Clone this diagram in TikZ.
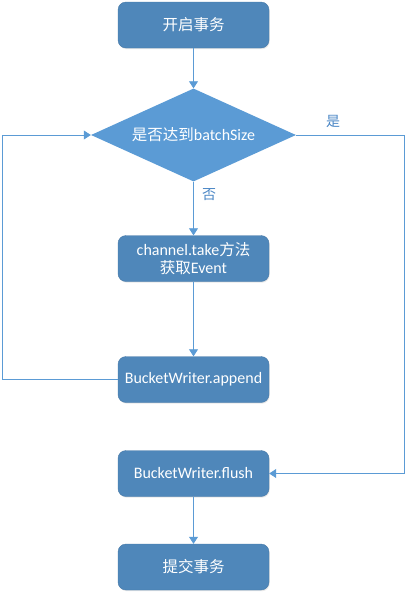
\documentclass[tikz,border=0pt]{standalone}
\usepackage{fontspec}
\setmainfont{Carlito}
\newfontfamily\cjk{Noto Sans CJK SC}
\usetikzlibrary{shapes.geometric,arrows.meta,shadows}
\definecolor{boxfill}{HTML}{4F87BA}
\definecolor{diafill}{HTML}{5B9BD5}
\definecolor{linec}{HTML}{5B9BD5}
\definecolor{lblc}{HTML}{4A86C5}
\begin{document}
\begin{tikzpicture}[x=1pt,y=-1pt,
  procbox/.style={draw=boxfill!90!black,line width=0.4pt,fill=boxfill,rounded corners=8pt,
    minimum width=151pt,minimum height=46pt,text=white,font=\fontsize{16}{19}\selectfont,
    align=center,inner sep=0pt,drop shadow={shadow xshift=0.8pt,shadow yshift=-1.2pt,opacity=0.18}},
  decbox/.style={diamond,fill=diafill,minimum width=205pt,minimum height=93pt,inner sep=0pt,
    aspect=2.2,text=white,font=\fontsize{16}{19}\selectfont},
  conn/.style={draw=linec,line width=0.8pt,-{Triangle[length=7pt,width=9pt]}},
  lbl/.style={text=lblc,font=\cjk\fontsize{14}{16}\selectfont,inner sep=0pt}]
\useasboundingbox (0,0) rectangle (406,598);
\node[procbox] (start) at (193.5,25) {\cjk\fontsize{15.5}{18}\selectfont 开启事务};
\node[decbox] (dec) at (193.5,135) {};
\node[text=white,font=\fontsize{16}{19}\selectfont,inner sep=0pt] (dectext) at (dec.center) {{\cjk\fontsize{15.5}{18}\selectfont 是否达到}batchSize};
\node[procbox] (take) at (193.5,258.5) {channel.take{\cjk\fontsize{15.5}{18}\selectfont 方法}\\[-1pt]{\cjk\fontsize{15.5}{18}\selectfont 获取}Event};
\node[procbox] (append) at (193.5,379.5) {BucketWriter.append};
\node[procbox] (flush) at (193.5,473.5) {BucketWriter.flush};
\node[procbox] (commit) at (193.5,567) {\cjk\fontsize{15.5}{18}\selectfont 提交事务};
\coordinate (lt) at (2,135);
\coordinate (lb) at (2,379.5);
\coordinate (rt) at (404,135);
\coordinate (rb) at (404,473.5);
\draw[conn] (start) -- (dec.north);
\draw[conn] (dec.south) -- (take);
\draw[conn] (take) -- (append);
\draw[conn] (append.west) -- (lb) -- (lt) -- (dec.west);
\draw[conn] (dec.east) -- (rt) -- (rb) -- (flush.east);
\draw[conn] (flush) -- (commit);
\node[lbl] (yes) at (333,121) {是};
\node[lbl] (no) at (209,195) {否};
\end{tikzpicture}
\end{document}
